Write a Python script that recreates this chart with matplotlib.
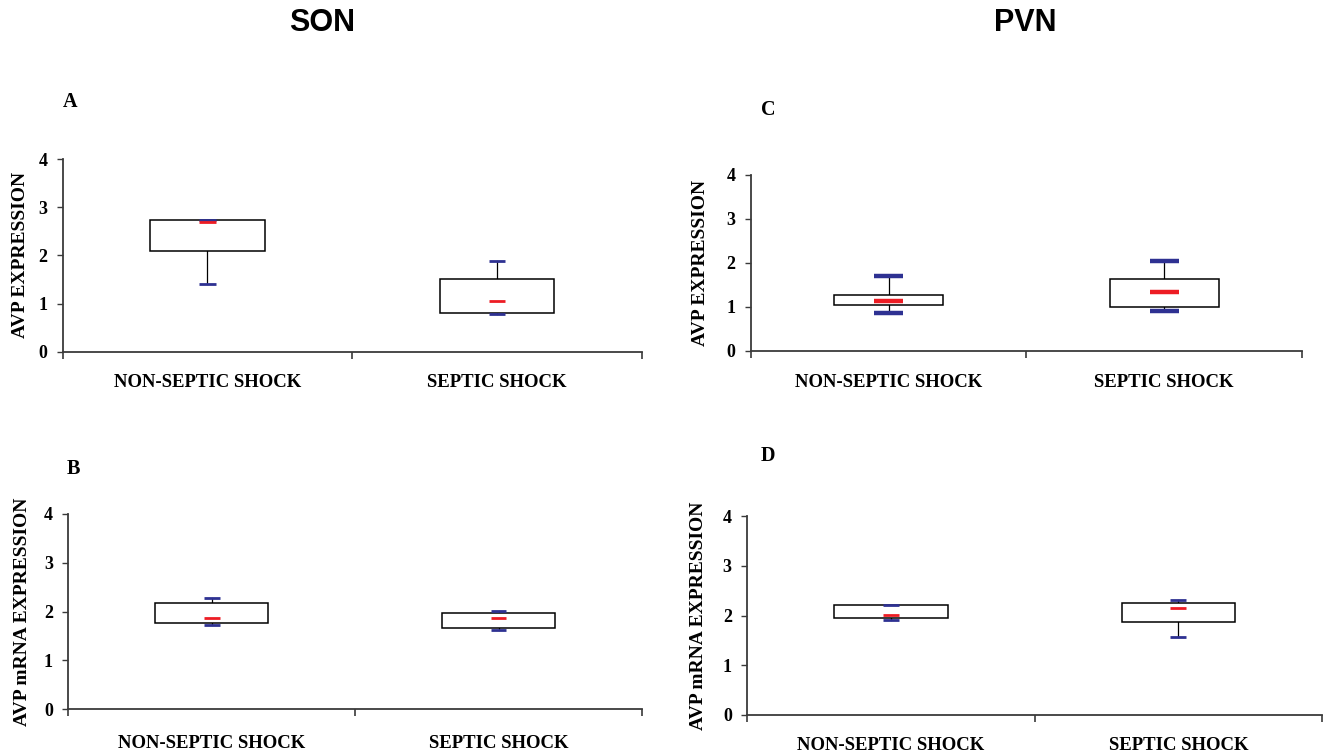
import matplotlib
matplotlib.use("Agg")
import matplotlib.pyplot as plt

categories = ["NON-SEPTIC SHOCK", "SEPTIC SHOCK"]
y_ticks = [0, 1, 2, 3, 4]

# [non-septic, septic] : whisker low, Q1, median, Q3, whisker high
A_low = [1.41, 0.78]; A_q1 = [2.10, 0.80]; A_med = [2.69, 1.06]; A_q3 = [2.73, 1.50]; A_high = [2.74, 1.88]
B_low = [1.73, 1.62]; B_q1 = [1.77, 1.67]; B_med = [1.87, 1.87]; B_q3 = [2.18, 1.97]; B_high = [2.29, 2.01]
C_low = [0.86, 0.90]; C_q1 = [1.05, 1.01]; C_med = [1.13, 1.35]; C_q3 = [1.28, 1.63]; C_high = [1.70, 2.05]
D_low = [1.90, 1.56]; D_q1 = [1.94, 1.87]; D_med = [2.02, 2.16]; D_q3 = [2.21, 2.26]; D_high = [2.22, 2.32]

panels = {
    "A": dict(low=A_low, q1=A_q1, med=A_med, q3=A_q3, high=A_high, ylabel="AVP EXPRESSION"),
    "B": dict(low=B_low, q1=B_q1, med=B_med, q3=B_q3, high=B_high, ylabel="AVP mRNA EXPRESSION"),
    "C": dict(low=C_low, q1=C_q1, med=C_med, q3=C_q3, high=C_high, ylabel="AVP EXPRESSION"),
    "D": dict(low=D_low, q1=D_q1, med=D_med, q3=D_q3, high=D_high, ylabel="AVP mRNA EXPRESSION"),
}

# layout (figure fractions) and style per panel
layout = {
    "A": dict(rect=[0.0472, 0.5329, 0.4373, 0.2559], letter=(70, 102), ylab_x=-0.072, pad=16.0, capw=0.057, lw=2.0),
    "B": dict(rect=[0.0515, 0.0580, 0.4330, 0.2594], letter=(73, 469), ylab_x=-0.080, pad=18.5, capw=0.055, lw=2.0),
    "C": dict(rect=[0.5668, 0.5339, 0.4158, 0.2337], letter=(768, 110), ylab_x=-0.092, pad=16.5, capw=0.106, lw=3.2),
    "D": dict(rect=[0.5638, 0.0505, 0.4340, 0.2642], letter=(768, 456), ylab_x=-0.084, pad=15.5, capw=0.055, lw=2.0),
}

W, H = 1325, 753
fig = plt.figure(figsize=(W / 100, H / 100), dpi=100)
fig.patch.set_facecolor("white")

serif = "Liberation Serif"
sans = "Liberation Sans"
RED = "#ED1C24"
BLUE = "#2E3192"
AX = "#3a3a3a"

fig.text(322 / W, 1 - 23 / H, "SON", fontfamily=sans, fontweight="bold", fontsize=22, ha="center", va="center")
fig.text(1025 / W, 1 - 23 / H, "PVN", fontfamily=sans, fontweight="bold", fontsize=22, ha="center", va="center")

positions = [0.5, 1.5]
for key in ["A", "B", "C", "D"]:
    d = panels[key]
    L = layout[key]
    ax = fig.add_axes(L["rect"])
    stats = []
    for i in range(2):
        stats.append(dict(whislo=d["low"][i], q1=d["q1"][i], med=d["med"][i],
                          q3=d["q3"][i], whishi=d["high"][i], fliers=[], label=categories[i]))
    ax.bxp(stats, positions=positions, widths=0.395, showfliers=False, patch_artist=True,
           capwidths=L["capw"],
           boxprops=dict(facecolor="white", edgecolor="black", linewidth=1.1, zorder=2),
           whiskerprops=dict(color="black", linewidth=0.9, zorder=1),
           capprops=dict(color=BLUE, linewidth=L["lw"], zorder=4, solid_capstyle="butt"),
           medianprops=dict(linewidth=0))
    ax.hlines(d["med"], [p - L["capw"] / 2 for p in positions], [p + L["capw"] / 2 for p in positions],
              colors=RED, linewidth=L["lw"], zorder=5)

    ax.set_xlim(0, 2)
    ax.set_ylim(0, 4)
    for s in ["top", "right"]:
        ax.spines[s].set_visible(False)
    for s in ["left", "bottom"]:
        ax.spines[s].set_color(AX)
        ax.spines[s].set_linewidth(1.3)
    ax.set_yticks(y_ticks)
    ax.set_yticklabels([str(t) for t in y_ticks], fontfamily=serif, fontweight="bold", fontsize=13)
    ax.tick_params(axis="y", direction="out", length=4, width=1.0, color=AX, pad=7)
    ax.set_xticks([0, 1, 2])
    ax.set_xticklabels([])
    ax.tick_params(axis="x", which="major", direction="out", length=5, width=1.2, color=AX)
    ax.set_xticks(positions, minor=True)
    ax.set_xticklabels(categories, minor=True, fontfamily=serif, fontweight="bold", fontsize=13.5)
    ax.tick_params(axis="x", which="minor", length=0, pad=L["pad"])
    ax.text(L["ylab_x"], 0.5, d["ylabel"], transform=ax.transAxes, rotation=90,
            ha="center", va="center", fontfamily=serif, fontweight="bold", fontsize=14)
    lx, ly = L["letter"]
    fig.text(lx / W, 1 - ly / H, key, fontfamily=serif, fontweight="bold", fontsize=14.5,
             ha="center", va="center")

fig.savefig("out.png", dpi=100, facecolor="white")
